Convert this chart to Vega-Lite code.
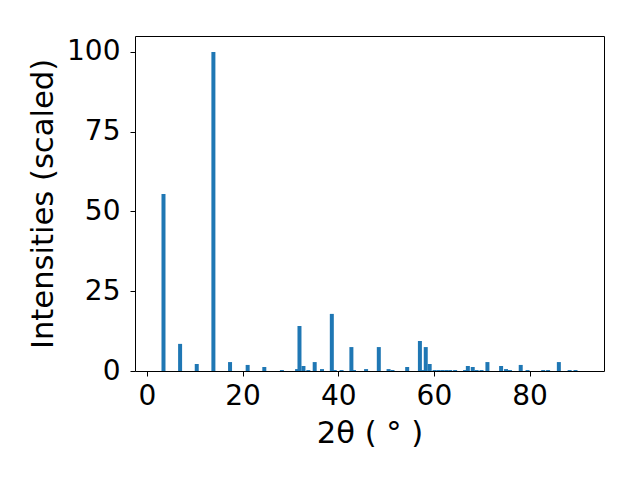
{
  "$schema": "https://vega.github.io/schema/vega-lite/v6.json",
  "width": 469,
  "height": 335,
  "autosize": {"type": "none"},
  "padding": {"left": 135, "top": 36, "right": 36, "bottom": 109},
  "background": "white",
  "config": {
    "font": "DejaVu Sans",
    "view": {"stroke": "black", "strokeWidth": 1},
    "axis": {
      "grid": false,
      "domain": false,
      "tickColor": "black",
      "tickSize": 5,
      "tickWidth": 1,
      "labelFont": "DejaVu Sans",
      "labelFontSize": 28,
      "labelColor": "black",
      "titleFont": "DejaVu Sans",
      "titleFontSize": 30.6,
      "titleFontWeight": "normal",
      "titleColor": "black"
    }
  },
  "data": {
    "values": [
      {"two_theta": 3.48, "intensity": 55.5},
      {"two_theta": 6.95, "intensity": 8.5},
      {"two_theta": 10.43, "intensity": 2.2},
      {"two_theta": 13.91, "intensity": 100},
      {"two_theta": 17.39, "intensity": 2.8},
      {"two_theta": 21.07, "intensity": 1.9},
      {"two_theta": 24.55, "intensity": 1.25},
      {"two_theta": 28.23, "intensity": 0.3},
      {"two_theta": 31.4, "intensity": 0.6},
      {"two_theta": 31.9, "intensity": 14.1},
      {"two_theta": 32.73, "intensity": 1.57},
      {"two_theta": 33.75, "intensity": 0.3},
      {"two_theta": 35.08, "intensity": 2.8},
      {"two_theta": 36.61, "intensity": 0.6},
      {"two_theta": 38.66, "intensity": 17.9},
      {"two_theta": 39.27, "intensity": 0.3},
      {"two_theta": 40.7, "intensity": 0.3},
      {"two_theta": 42.75, "intensity": 7.5},
      {"two_theta": 43.3, "intensity": 0.3},
      {"two_theta": 45.82, "intensity": 0.6},
      {"two_theta": 48.48, "intensity": 7.5},
      {"two_theta": 50.52, "intensity": 0.6},
      {"two_theta": 51.34, "intensity": 0.3},
      {"two_theta": 54.41, "intensity": 1.25},
      {"two_theta": 57.07, "intensity": 9.4},
      {"two_theta": 57.7, "intensity": 0.3},
      {"two_theta": 58.29, "intensity": 7.5},
      {"two_theta": 59.11, "intensity": 2.2},
      {"two_theta": 60.13, "intensity": 0.3},
      {"two_theta": 60.95, "intensity": 0.3},
      {"two_theta": 61.77, "intensity": 0.3},
      {"two_theta": 62.59, "intensity": 0.3},
      {"two_theta": 63.4, "intensity": 0.3},
      {"two_theta": 64.43, "intensity": 0.3},
      {"two_theta": 66.5, "intensity": 0.3},
      {"two_theta": 67.09, "intensity": 1.57},
      {"two_theta": 68.11, "intensity": 1.25},
      {"two_theta": 68.93, "intensity": 0.3},
      {"two_theta": 69.95, "intensity": 0.3},
      {"two_theta": 71.18, "intensity": 2.8},
      {"two_theta": 74.04, "intensity": 1.57},
      {"two_theta": 75.07, "intensity": 0.6},
      {"two_theta": 75.89, "intensity": 0.3},
      {"two_theta": 78.14, "intensity": 1.9},
      {"two_theta": 79.57, "intensity": 0.3},
      {"two_theta": 82.84, "intensity": 0.3},
      {"two_theta": 83.86, "intensity": 0.3},
      {"two_theta": 86.11, "intensity": 2.8},
      {"two_theta": 88.36, "intensity": 0.3},
      {"two_theta": 89.59, "intensity": 0.3}
    ]
  },
  "mark": {"type": "bar", "size": 4, "color": "#1f77b4"},
  "encoding": {
    "x": {
      "field": "two_theta",
      "type": "quantitative",
      "scale": {"domain": [-1.43, 94.5], "nice": false, "zero": false},
      "axis": {"values": [0, 20, 40, 60, 80], "labelPadding": 6, "title": "2θ ( ° )", "titlePadding": 8}
    },
    "y": {
      "field": "intensity",
      "type": "quantitative",
      "scale": {"domain": [0, 105], "nice": false},
      "axis": {"values": [0, 25, 50, 75, 100], "labelPadding": 10, "title": "Intensities (scaled)", "titlePadding": 8}
    }
  }
}
